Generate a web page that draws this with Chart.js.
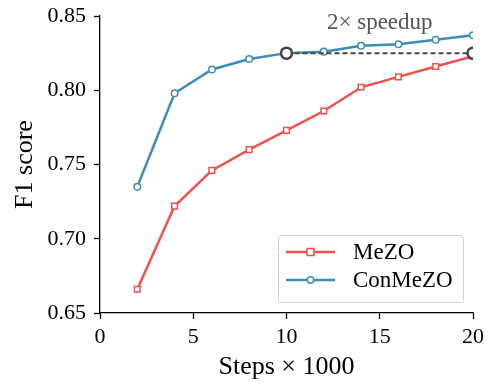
<!DOCTYPE html>
<html>
<head>
<meta charset="utf-8">
<script src="https://cdn.jsdelivr.net/npm/chart.js@4"></script>
<style>
html,body{margin:0;padding:0;background:#fff;}
#wrap{width:490px;height:383px;}
</style>
</head>
<body>
<div id="wrap"><canvas id="c" width="490" height="383"></canvas></div>
<script>
const steps = [2, 4, 6, 8, 10, 12, 14, 16, 18, 20];
const mezo = [0.666, 0.722, 0.746, 0.760, 0.773, 0.786, 0.802, 0.809, 0.816, 0.823];
const conmezo = [0.735, 0.798, 0.814, 0.821, 0.825, 0.826, 0.830, 0.831, 0.834, 0.837];
const speedupX = [10, 20];
const speedupY = [0.825, 0.825];
const speedupLabel = "2× speedup";
const xTicks = [0, 5, 10, 15, 20];
const yTicks = [0.65, 0.70, 0.75, 0.80, 0.85];

const FONT = "'Liberation Serif', 'Times New Roman', serif";
const RED = '#f0524b';
const BLUE = '#3b8db5';

const legendPlugin = {
  id: 'customLegend',
  afterDraw(chart) {
    const ctx = chart.ctx;
    const x0 = 278, y0 = 235, w = 185, h = 67;
    ctx.save();
    ctx.fillStyle = 'rgba(255,255,255,0.85)';
    ctx.strokeStyle = '#d0d0d0';
    ctx.lineWidth = 1;
    ctx.beginPath();
    ctx.roundRect(x0 + 0.5, y0 + 0.5, w, h, 3);
    ctx.fill();
    ctx.stroke();
    const items = chart.data.datasets.filter(d => d.legendIndex !== undefined)
      .sort((a, b) => a.legendIndex - b.legendIndex);
    items.forEach((d, i) => {
      const cy = y0 + 17 + i * 28;
      ctx.strokeStyle = d.borderColor;
      ctx.lineWidth = d.borderWidth;
      ctx.beginPath();
      ctx.moveTo(x0 + 8, cy);
      ctx.lineTo(x0 + 57, cy);
      ctx.stroke();
      ctx.fillStyle = '#fff';
      ctx.lineWidth = 1.5;
      ctx.strokeStyle = d.pointBorderColor;
      const mx = x0 + 32.5;
      if (d.pointStyle === 'rect') {
        ctx.fillRect(mx - 3.5, cy - 3.5, 7, 7);
        ctx.strokeRect(mx - 3.5, cy - 3.5, 7, 7);
      } else {
        ctx.beginPath();
        ctx.arc(mx, cy, 3.2, 0, Math.PI * 2);
        ctx.fill();
        ctx.stroke();
      }
      ctx.fillStyle = '#000';
      ctx.font = '23px ' + FONT;
      ctx.textBaseline = 'middle';
      ctx.textAlign = 'left';
      ctx.fillText(d.label, x0 + 75, cy + 1);
    });
    ctx.restore();
  }
};

const textPlugin = {
  id: 'speedText',
  afterDatasetsDraw(chart) {
    const ctx = chart.ctx;
    const xs = chart.scales.x, ys = chart.scales.y;
    ctx.save();
    ctx.fillStyle = '#555';
    ctx.font = '23px ' + FONT;
    ctx.textAlign = 'center';
    ctx.textBaseline = 'middle';
    ctx.fillText(speedupLabel, xs.getPixelForValue(15), ys.getPixelForValue(0.8455));
    ctx.restore();
  }
};

new Chart(document.getElementById('c'), {
  type: 'line',
  data: {
    datasets: [
      {
        label: 'speedup',
        data: speedupX.map((x, i) => ({x, y: speedupY[i]})),
        borderColor: '#444',
        borderWidth: 2,
        borderDash: [5, 3],
        pointRadius: 5.5,
        pointBorderWidth: 2.5,
        pointBorderColor: '#444',
        pointBackgroundColor: '#fff',
        order: 0
      },
      {
        label: 'ConMeZO',
        data: steps.map((x, i) => ({x, y: conmezo[i]})),
        borderColor: BLUE,
        borderWidth: 2.5,
        pointStyle: 'circle',
        pointRadius: 3.3,
        pointBorderWidth: 1.5,
        pointBorderColor: BLUE,
        pointBackgroundColor: '#fff',
        order: 1,
        legendIndex: 1
      },
      {
        label: 'MeZO',
        data: steps.map((x, i) => ({x, y: mezo[i]})),
        borderColor: RED,
        borderWidth: 2.5,
        pointStyle: 'rect',
        pointRadius: 4,
        pointBorderWidth: 1.5,
        pointBorderColor: RED,
        pointBackgroundColor: '#fff',
        order: 2,
        legendIndex: 0
      }
    ]
  },
  options: {
    responsive: false,
    animation: false,
    devicePixelRatio: 1,
    layout: { padding: { top: 16, right: 17, left: 0, bottom: 0 } },
    plugins: {
      legend: { display: false },
      tooltip: { enabled: false }
    },
    scales: {
      x: {
        type: 'linear',
        min: 0, max: 20,
        afterBuildTicks: s => { s.ticks = xTicks.map(v => ({value: v})); },
        afterFit: s => { s.height = 70; s.paddingLeft = 0; s.paddingRight = 0; },
        grid: { display: true, drawOnChartArea: false, drawTicks: true, tickLength: 6, tickColor: '#000', tickWidth: 1.3 },
        border: { display: true, color: '#000', width: 1.3 },
        ticks: { color: '#000', font: { family: FONT, size: 22 }, padding: 5, maxRotation: 0 },
        title: { display: true, text: 'Steps × 1000', color: '#000', font: { family: FONT, size: 26 }, padding: { top: 0, bottom: 0 } }
      },
      y: {
        type: 'linear',
        min: 0.65, max: 0.85,
        afterBuildTicks: s => { s.ticks = yTicks.map(v => ({value: v})); },
        afterFit: s => { s.width = 100; s.paddingTop = 0; s.paddingBottom = 0; },
        grid: { display: true, drawOnChartArea: false, drawTicks: true, tickLength: 6, tickColor: '#000', tickWidth: 1.3 },
        border: { display: true, color: '#000', width: 1.3 },
        ticks: { color: '#000', font: { family: FONT, size: 22 }, padding: 8, callback: v => Number(v).toFixed(2) },
        title: { display: true, text: 'F1 score', color: '#000', font: { family: FONT, size: 26 }, padding: { top: 10, bottom: 0 } }
      }
    }
  },
  plugins: [legendPlugin, textPlugin]
});
</script>
</body>
</html>
